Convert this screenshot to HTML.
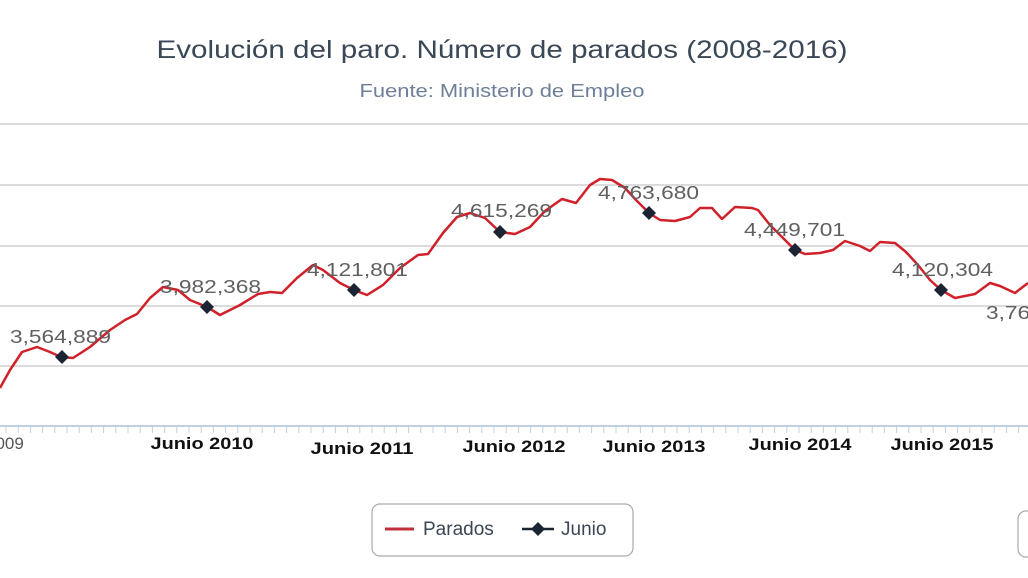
<!DOCTYPE html>
<html><head><meta charset="utf-8"><style>
html,body{margin:0;padding:0;background:#fff;}
svg{display:block;}
</style></head><body>
<svg width="1028" height="578" viewBox="0 0 1028 578" xmlns="http://www.w3.org/2000/svg" font-family="Liberation Sans, sans-serif">
<rect width="1028" height="578" fill="#fff"/>
<text x="502" y="58" text-anchor="middle" font-size="25" fill="#3a4756" textLength="691" lengthAdjust="spacingAndGlyphs">Evolución del paro. Número de parados (2008-2016)</text>
<text x="502" y="97" text-anchor="middle" font-size="18" fill="#6e7f99" textLength="285" lengthAdjust="spacingAndGlyphs">Fuente: Ministerio de Empleo</text>
<g stroke="#d0d0d0" stroke-width="1.5">
<line x1="0" y1="124" x2="1028" y2="124"/>
<line x1="0" y1="185" x2="1028" y2="185"/>
<line x1="0" y1="246" x2="1028" y2="246"/>
<line x1="0" y1="306" x2="1028" y2="306"/>
<line x1="0" y1="366" x2="1028" y2="366"/>
</g>
<line x1="0" y1="426" x2="1028" y2="426" stroke="#c0d0e0" stroke-width="2"/>
<g id="ticks" stroke="#c0d0e0" stroke-width="1"></g>
<polyline fill="none" stroke="#d0202a" stroke-width="2.5" stroke-linejoin="round" points="0,388 10,370 22,352 37,347 50,352 61,357 73,358 90,347 110,330 125,320 137,314 150,298 163,287 178,290 190,300 207,307 220,315 240,305 258,294 270,292 282,293 297,278 313,265 323,270 340,283 354,290 367,295 383,285 400,268 418,255 428,254 443,233 457,217 470,213 485,218 500,232 515,234 530,227 545,211 562,199 576,203 590,185 600,179 612,180 625,188 636,200 649,213 660,220 675,221 690,217 700,208 712,208 722,219 735,207 752,208 758,210 770,225 785,240 795,250 805,254 820,253 833,250 845,241 860,246 870,251 880,242 895,243 906,252 918,265 930,280 941,290 955,298 975,294 990,283 1000,286 1015,293 1028,283"/>
<g fill="#1a2433">
<path d="M62,350 l7,7 -7,7 -7,-7z"/>
<path d="M207,300 l7,7 -7,7 -7,-7z"/>
<path d="M354,283 l7,7 -7,7 -7,-7z"/>
<path d="M500,225 l7,7 -7,7 -7,-7z"/>
<path d="M649,206 l7,7 -7,7 -7,-7z"/>
<path d="M795,243 l7,7 -7,7 -7,-7z"/>
<path d="M941,283 l7,7 -7,7 -7,-7z"/>
</g>
<g font-size="18" fill="#606060">
<text x="10" y="343" textLength="101" lengthAdjust="spacingAndGlyphs">3,564,889</text>
<text x="160" y="293" textLength="101" lengthAdjust="spacingAndGlyphs">3,982,368</text>
<text x="307" y="276" textLength="101" lengthAdjust="spacingAndGlyphs">4,121,801</text>
<text x="451" y="217" textLength="101" lengthAdjust="spacingAndGlyphs">4,615,269</text>
<text x="598" y="199" textLength="101" lengthAdjust="spacingAndGlyphs">4,763,680</text>
<text x="744" y="236" textLength="101" lengthAdjust="spacingAndGlyphs">4,449,701</text>
<text x="892" y="276" textLength="101" lengthAdjust="spacingAndGlyphs">4,120,304</text>
<text x="986" y="319" textLength="101" lengthAdjust="spacingAndGlyphs">3,767,054</text>
</g>
<g font-size="17" font-weight="bold" fill="#111" text-anchor="middle">
<text x="202" y="449" textLength="103" lengthAdjust="spacingAndGlyphs">Junio 2010</text>
<text x="362" y="454" textLength="103" lengthAdjust="spacingAndGlyphs">Junio 2011</text>
<text x="514" y="452" textLength="103" lengthAdjust="spacingAndGlyphs">Junio 2012</text>
<text x="654" y="452" textLength="103" lengthAdjust="spacingAndGlyphs">Junio 2013</text>
<text x="800" y="450" textLength="103" lengthAdjust="spacingAndGlyphs">Junio 2014</text>
<text x="942" y="450" textLength="103" lengthAdjust="spacingAndGlyphs">Junio 2015</text>
</g>
<text x="-14" y="449" font-size="17" fill="#555">2009</text>
<rect x="372" y="504" width="261" height="52" rx="8" fill="#fff" stroke="#aaa" stroke-width="1.2"/>
<line x1="385" y1="529" x2="414" y2="529" stroke="#c0303a" stroke-width="3"/>
<text x="423" y="535" font-size="19" fill="#3a4756">Parados</text>
<line x1="522" y1="529" x2="554" y2="529" stroke="#1a2433" stroke-width="2.5"/>
<path d="M538,522 l7,7 -7,7 -7,-7z" fill="#1a2433"/>
<text x="561" y="535" font-size="19" fill="#3a4756">Junio</text>
<rect x="1018" y="511" width="30" height="46" rx="8" fill="#fff" stroke="#aaa" stroke-width="1.2"/>
</svg>
<script>
var g=document.getElementById('ticks');var s='';
for(var x=6;x<1028;x+=12.2){s+='<line x1="'+x+'" y1="426" x2="'+x+'" y2="433"/>';}
g.innerHTML=s;
</script>
</body></html>
